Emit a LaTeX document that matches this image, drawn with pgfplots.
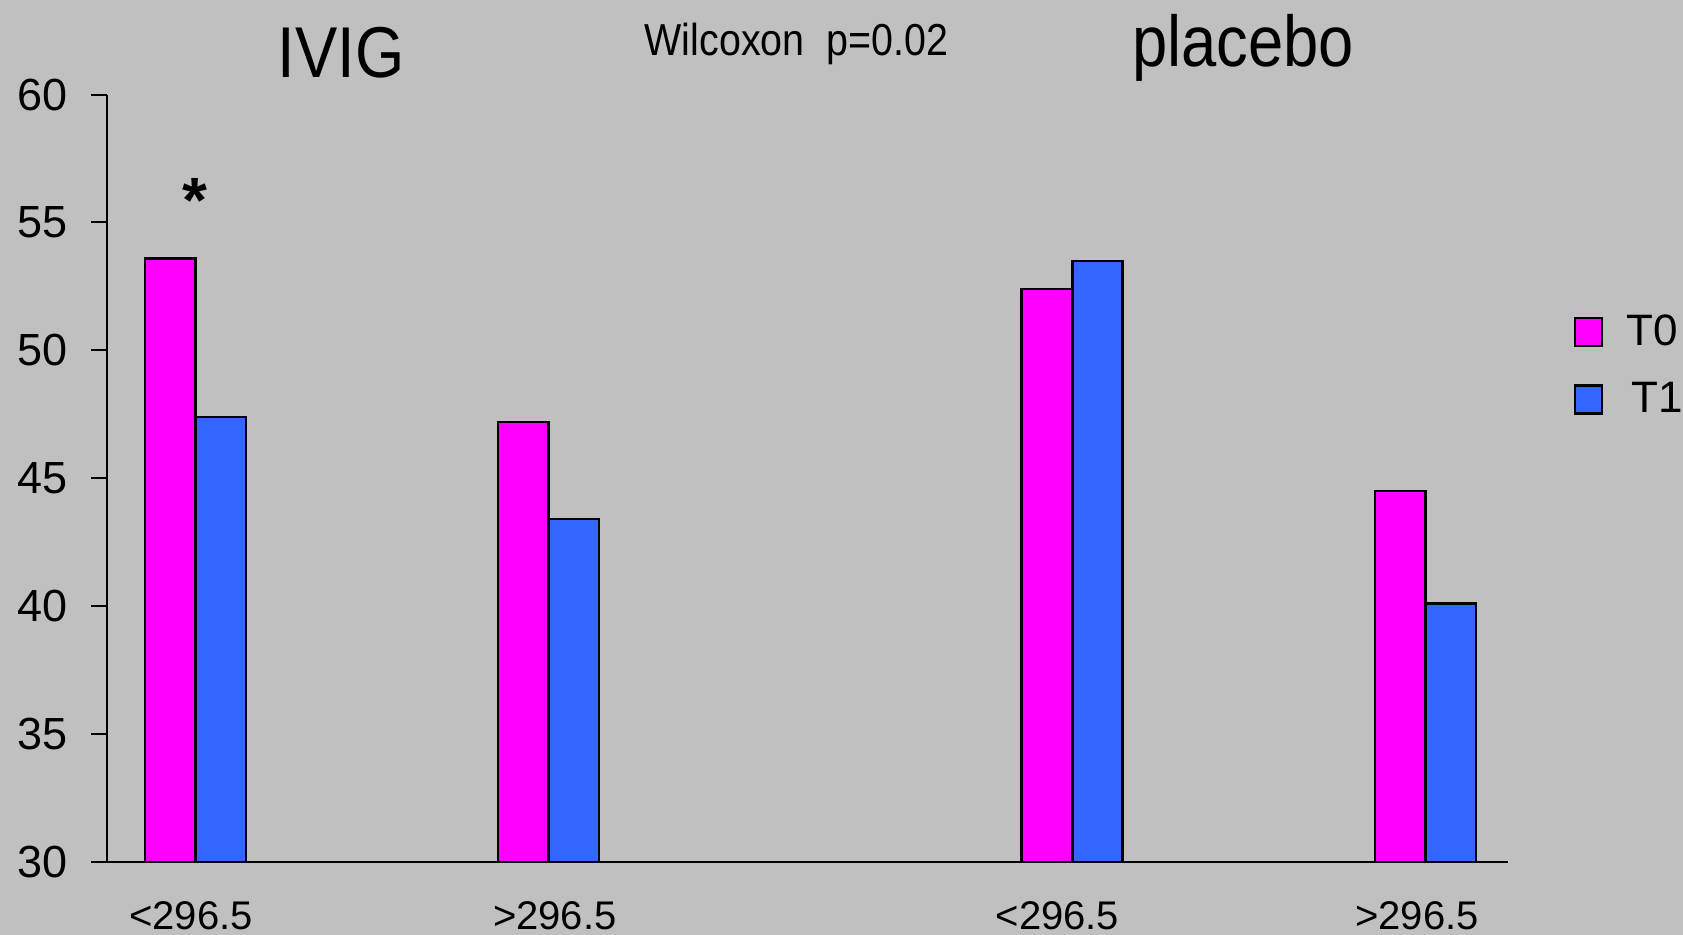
\documentclass[border=0pt]{standalone}
\usepackage{graphicx}
\usepackage{pgfplots}
\pgfplotsset{compat=1.18}
\usepackage{fontspec}
\setmainfont{Liberation Sans}
\definecolor{bg}{HTML}{C0C0C0}
\definecolor{tzero}{HTML}{FF00FF}
\definecolor{tone}{HTML}{3366FF}

\begin{document}
\begin{tikzpicture}
\fill[bg] (-53.7pt,-36.5pt) rectangle (787.9pt,431pt);
\useasboundingbox (-53.7pt,-36.5pt) rectangle (787.9pt,431pt);
\begin{axis}[
  at={(0,0)}, anchor=south west,
  scale only axis, width=700.4pt, height=383.7pt,
  xmin=-0.249, xmax=3.717, ymin=30, ymax=60,
  axis x line*=bottom, axis y line*=left,
  axis line style={line width=1pt, black, -},
  clip mode=individual,
  ytick={30,35,...,60},
  xtick={-0.012,1.018,2.441,3.459},
  xticklabels={<296.5,>296.5,<296.5,>296.5},
  xtick style={draw=none},
  ytick style={line width=1pt, black},
  tick align=outside,
  major tick length=8pt,
  /pgf/number format/assume math mode=true,
  yticklabel style={font=\fontsize{22.5}{26}\selectfont, xshift=-8.5pt},
  xticklabel style={font=\fontsize{20}{24}\selectfont, yshift=-8.5pt},
  legend style={draw=none, fill=none, at={(1,1)}, anchor=north west,
    xshift=32.7pt, yshift=-108pt, inner sep=0pt,
    font=\fontsize{22}{26}\selectfont, row sep=13pt},
  legend cell align=left,
  legend image code/.code={\draw[#1, draw=black, line width=1.3pt] (0pt,-7pt) rectangle (13.4pt,7pt);},
]
% T0 and T1 means per group
\addplot[ybar, bar width=0.143, bar shift=-0.0715, fill=tzero, draw=black, line width=1.3pt]
  coordinates {(0,53.6) (1,47.2) (2.483,52.4) (3.483,44.5)};
\addlegendentry{\hspace{9.5pt}T0}
\addplot[ybar, bar width=0.143, bar shift=0.0715, fill=tone, draw=black, line width=1.3pt]
  coordinates {(0,47.4) (1,43.4) (2.483,53.5) (3.483,40.1)};
\addlegendentry{\hspace{12pt}T1}

\node[anchor=base, font=\fontsize{36}{40}\selectfont] at (axis cs:0.413,60) [yshift=8.6pt] {\scalebox{0.88}[1]{IVIG}};
\node[anchor=base, font=\fontsize{36}{40}\selectfont] at (axis cs:2.967,60) [yshift=14pt] {\scalebox{0.88}[1]{placebo}};
\node[anchor=base, font=\fontsize{22.4}{26}\selectfont] at (axis cs:1.702,60) [yshift=19.3pt] {\scalebox{0.88}[1]{Wilcoxon\ \ p=0.02}};
\node[font=\fontsize{32}{36}\selectfont\bfseries] at (axis cs:0,55.85) {*};
\end{axis}
\end{tikzpicture}
\end{document}
